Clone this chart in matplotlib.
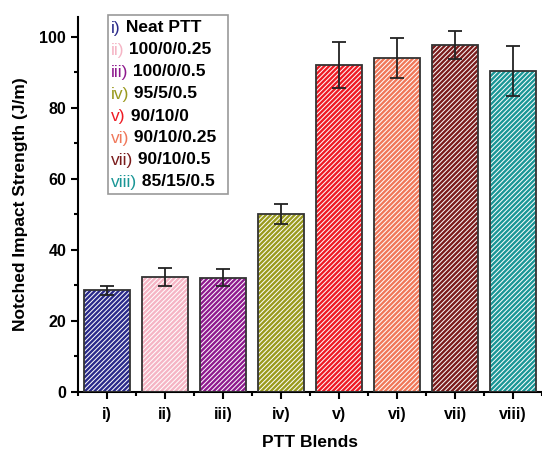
import matplotlib
matplotlib.use("Agg")
import matplotlib.pyplot as plt
from matplotlib.patches import Rectangle

categories = ["i)", "ii)", "iii)", "iv)", "v)", "vi)", "vii)", "viii)"]
blend_names = ["Neat PTT", "100/0/0.25", "100/0/0.5", "95/5/0.5", "90/10/0",
               "90/10/0.25", "90/10/0.5", "85/15/0.5"]
values = [28.6, 32.3, 32.2, 50.0, 92.0, 94.0, 97.7, 90.3]
errors = [1.3, 2.6, 2.5, 2.8, 6.5, 5.6, 4.0, 7.0]
colors = ["#2a2a8a", "#f5b5c5", "#8e1a8e", "#9a9a1e", "#ee1b24",
          "#f0785a", "#7a1c1c", "#1a9696"]

plt.rcParams['font.family'] = ['Liberation Sans', 'DejaVu Sans']
plt.rcParams['hatch.linewidth'] = 1.7

fig = plt.figure(figsize=(5.42, 4.49), dpi=100)
ax = fig.add_axes([0.144, 0.127, 0.856, 0.835])

x = list(range(len(categories)))
for xi, v, c in zip(x, values, colors):
    ax.bar(xi, v, width=0.8, color="white", edgecolor=c, hatch="///////", linewidth=0, zorder=2)
ax.bar(x, values, width=0.8, fill=False, edgecolor="#333333", linewidth=1.3, zorder=3)
ax.errorbar(x, values, yerr=errors, fmt="none", ecolor="#222222", elinewidth=1.3,
            capsize=5, capthick=1.3, zorder=4)

ax.set_xlim(-0.5, 7.47)
ax.set_ylim(0, 105.5)
ax.set_xticks(x)
ax.set_xticklabels(categories, fontsize=11.5, fontweight="bold")
ax.set_xticks([i + 0.5 for i in range(-1, 8)], minor=True)
ax.set_yticks([0, 20, 40, 60, 80, 100])
ax.set_yticks([10, 30, 50, 70, 90], minor=True)
ax.tick_params(axis="y", labelsize=11.5, width=1.5, length=5, direction="out")
ax.tick_params(axis="x", width=1.5, length=5, direction="out", pad=6)
ax.tick_params(which="minor", width=1.5, length=3)
for lab in ax.get_yticklabels():
    lab.set_fontweight("bold")
for s in ["top", "right"]:
    ax.spines[s].set_visible(False)
for s in ["left", "bottom"]:
    ax.spines[s].set_linewidth(1.5)

ax.set_xlabel("PTT Blends", fontsize=12.5, fontweight="bold", labelpad=9)
ax.set_ylabel("Notched Impact Strength (J/m)", fontsize=12.5, fontweight="bold", labelpad=8)

# custom legend box
x0_px, y0_px, x1_px, y1_px = 108, 15, 228, 194
W, H = 542, 449
fig.patches.append(Rectangle((x0_px / W, 1 - y1_px / H), (x1_px - x0_px) / W, (y1_px - y0_px) / H,
                             transform=fig.transFigure, fill=False, edgecolor="#999999",
                             linewidth=1.2, zorder=5))
line_h = 22.0
for i, (cat, name, c) in enumerate(zip(categories, blend_names, colors)):
    ypx = 28 + i * line_h
    t = fig.text(111 / W, 1 - ypx / H, cat, color=c, fontsize=12.5, fontweight="normal",
                 va="center", ha="left")
    ax.annotate(" " + name, xy=(1, 0.5), xycoords=t, va="center", ha="left",
                fontsize=12.5, fontweight="bold", color="black")

fig.savefig("out.png", dpi=100)
